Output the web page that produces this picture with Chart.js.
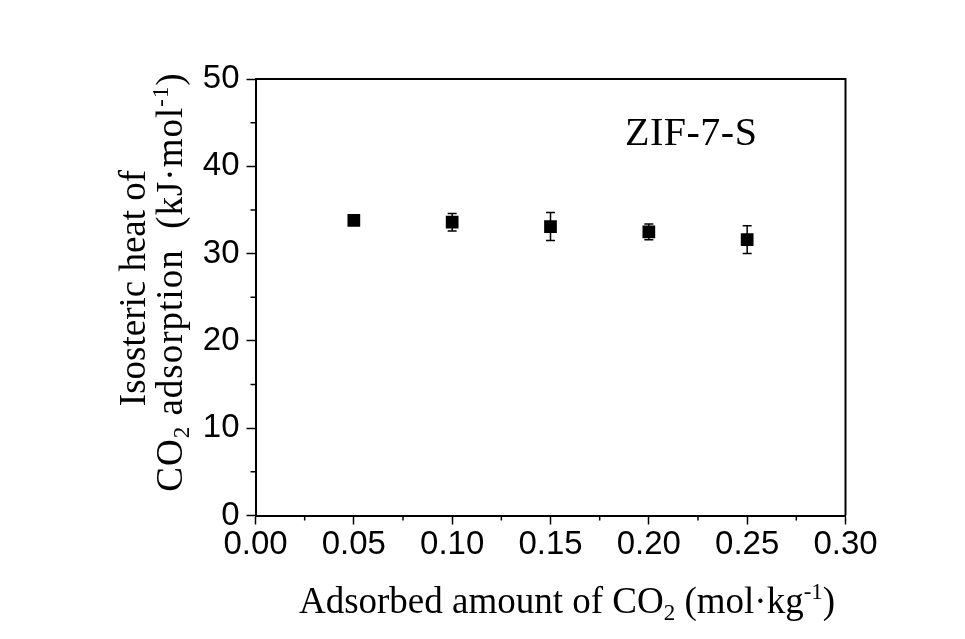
<!DOCTYPE html>
<html><head><meta charset="utf-8">
<script src="https://cdn.jsdelivr.net/npm/chart.js@4/dist/chart.umd.min.js"></script>
<style>html,body{margin:0;padding:0;background:#fff}#wrap{width:965px;height:639px}</style>
</head><body><div id="wrap"><canvas id="c" width="965" height="639"></canvas></div>
<script>
const adsorbedAmount = [0.05, 0.10, 0.15, 0.20, 0.25];
const isostericHeat = [33.8, 33.6, 33.1, 32.5, 31.6];
const heatError = [0.3, 1.0, 1.6, 0.9, 1.6];
const xTickValues = [0, 0.05, 0.10, 0.15, 0.20, 0.25, 0.30];
const yTickValues = [0, 10, 20, 30, 40, 50];
const sampleLabel = 'ZIF-7-S';
const xTitleParts = [['Adsorbed amount of CO', 'n'], ['2', 'sub'], [' (mol·kg', 'n'], ['-1', 'sup'], [')', 'n']];
const yTitleLine1 = [['Isosteric heat of', 'n']];
const yTitleLine2 = [['CO', 'n'], ['2', 'sub'], [' adsorption  (kJ·mol', 'n'], ['-1', 'sup'], [')', 'n']];

const SERIF = '"Liberation Serif", "Times New Roman", serif';
const SANS = '"Liberation Sans", Arial, sans-serif';

function drawRich(ctx, parts, x, y, size, spacing) {
  const small = size * 0.62;
  ctx.letterSpacing = (spacing || 0) + 'px';
  let total = 0;
  const widths = parts.map(([t, k]) => {
    ctx.font = (k === 'n' ? size : small) + 'px ' + SERIF;
    const w = ctx.measureText(t).width;
    total += w;
    return w;
  });
  let cx = x - total / 2;
  parts.forEach(([t, k], i) => {
    ctx.font = (k === 'n' ? size : small) + 'px ' + SERIF;
    const dy = k === 'sub' ? size * 0.2 : (k === 'sup' ? -size * 0.38 : 0);
    ctx.fillText(t, cx, y + dy);
    cx += widths[i];
  });
  ctx.letterSpacing = '0px';
}

const decorations = {
  id: 'decorations',
  beforeDatasetsDraw(chart) {
    const ctx = chart.ctx, xs = chart.scales.x, ys = chart.scales.y;
    ctx.save();
    ctx.strokeStyle = '#000';
    ctx.lineWidth = 1.5;
    adsorbedAmount.forEach((xv, i) => {
      const px = xs.getPixelForValue(xv);
      const top = ys.getPixelForValue(isostericHeat[i] + heatError[i]);
      const bot = ys.getPixelForValue(isostericHeat[i] - heatError[i]);
      ctx.beginPath();
      ctx.moveTo(px, top); ctx.lineTo(px, bot);
      ctx.moveTo(px - 4.5, top); ctx.lineTo(px + 4.5, top);
      ctx.moveTo(px - 4.5, bot); ctx.lineTo(px + 4.5, bot);
      ctx.stroke();
    });
    ctx.restore();
  },
  afterDraw(chart) {
    const ctx = chart.ctx, a = chart.chartArea, xs = chart.scales.x, ys = chart.scales.y;
    ctx.save();
    ctx.strokeStyle = '#000';
    ctx.lineWidth = 2;
    ctx.beginPath();
    ctx.moveTo(a.left, a.top); ctx.lineTo(a.right, a.top); ctx.lineTo(a.right, a.bottom);
    ctx.stroke();
    ctx.lineWidth = 1.5;
    ctx.beginPath();
    for (let i = 0; i < xTickValues.length - 1; i++) {
      const px = xs.getPixelForValue((xTickValues[i] + xTickValues[i + 1]) / 2);
      ctx.moveTo(px, a.bottom); ctx.lineTo(px, a.bottom + 5);
    }
    for (let i = 0; i < yTickValues.length - 1; i++) {
      const py = ys.getPixelForValue((yTickValues[i] + yTickValues[i + 1]) / 2);
      ctx.moveTo(a.left, py); ctx.lineTo(a.left - 5, py);
    }
    ctx.stroke();
    ctx.fillStyle = '#000';
    ctx.textBaseline = 'alphabetic';
    ctx.textAlign = 'left';
    drawRich(ctx, xTitleParts, 567, 613, 37, 0);
    ctx.save();
    ctx.translate(145, 288);
    ctx.rotate(-Math.PI / 2);
    drawRich(ctx, yTitleLine1, 0, 0, 37, 0);
    ctx.restore();
    ctx.save();
    ctx.translate(182, 282);
    ctx.rotate(-Math.PI / 2);
    drawRich(ctx, yTitleLine2, 0, 0, 37, 1);
    ctx.restore();
    ctx.font = '40px ' + SERIF;
    ctx.letterSpacing = '0.5px';
    ctx.textAlign = 'left';
    ctx.fillText(sampleLabel, 625, 145);
    ctx.restore();
  }
};

new Chart(document.getElementById('c'), {
  type: 'scatter',
  data: {
    datasets: [{
      data: adsorbedAmount.map((x, i) => ({ x, y: isostericHeat[i] })),
      pointStyle: 'rect',
      pointRadius: 9,
      pointHoverRadius: 9,
      backgroundColor: '#000',
      borderColor: '#000',
      borderWidth: 0,
      showLine: false
    }]
  },
  options: {
    responsive: false,
    animation: false,
    devicePixelRatio: 1,
    layout: { padding: { top: 79, right: 119.5, left: 0, bottom: 0 } },
    plugins: { legend: { display: false }, tooltip: { enabled: false } },
    scales: {
      x: {
        type: 'linear', min: 0, max: 0.3,
        afterBuildTicks: s => { s.ticks = xTickValues.map(v => ({ value: v })); },
        afterFit: s => { s.height = 123.5; },
        grid: { drawOnChartArea: false, drawTicks: true, tickLength: 9, tickWidth: 1.5, tickColor: '#000' },
        border: { display: true, color: '#000', width: 2 },
        ticks: { color: '#000', font: { family: SANS, size: 33 }, padding: 1, maxRotation: 0, callback: v => v.toFixed(2) }
      },
      y: {
        type: 'linear', min: 0, max: 50,
        afterBuildTicks: s => { s.ticks = yTickValues.map(v => ({ value: v })); },
        afterFit: s => { s.width = 255.5; },
        grid: { drawOnChartArea: false, drawTicks: true, tickLength: 9, tickWidth: 1.5, tickColor: '#000' },
        border: { display: true, color: '#000', width: 2 },
        ticks: { color: '#000', font: { family: SANS, size: 33 }, padding: 7, callback: v => String(v) }
      }
    }
  },
  plugins: [decorations]
});
</script>
</body></html>
